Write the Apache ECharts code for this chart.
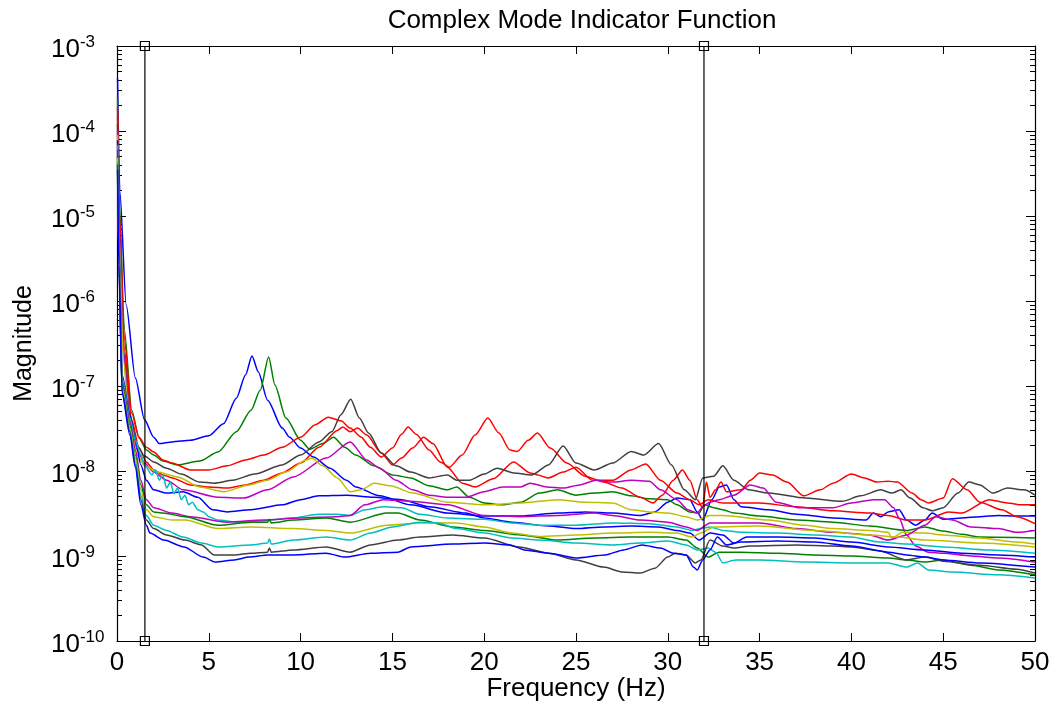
<!DOCTYPE html>
<html><head><meta charset="utf-8">
<script src="https://cdn.jsdelivr.net/npm/echarts@6/dist/echarts.min.js"></script>
<style>html,body{margin:0;padding:0;background:#fff}#c{width:1059px;height:708px}</style>
</head><body><div id="c"></div>
<script>
const FONT = '"Liberation Sans", Arial, Helvetica, sans-serif';
const titleText = 'Complex Mode Indicator Function';
const xName = 'Frequency (Hz)';
const yName = 'Magnitude';
const xTicks = [0, 5, 10, 15, 20, 25, 30, 35, 40, 45, 50];
const yTickExponents = [-10, -9, -8, -7, -6, -5, -4, -3];
const markerFreqs = [1.52, 31.97];

// [frequency (Hz), magnitude]
const s1 = [[0.03,4.2e-4],[0.15,2.0e-5],[0.5,9.0e-7],[1.0,1.24e-7],[1.5,4.0e-8],[2.0,2.5e-8],[2.3,2.1e-8],[3.0,2.2e-8],[4.0,2.3e-8],[5.0,2.6e-8],[5.8,3.6e-8],[6.5,7.2e-8],[7.0,1.35e-7],[7.35,2.25e-7],[7.7,1.46e-7],[8.2,6.8e-8],[9.0,3.2e-8],[9.4,2.5e-8],[10.0,1.86e-8],[10.7,1.46e-8],[11.6,1.08e-8],[12.5,7.8e-9],[13.0,6.5e-9],[14.3,5.1e-9],[16.0,4.0e-9],[18.0,3.2e-9],[20.0,2.95e-9],[22.0,2.95e-9],[24.0,3.2e-9],[25.5,3.3e-9],[27.0,3.2e-9],[28.5,3.0e-9],[29.3,3.3e-9],[30.0,4.3e-9],[30.5,4.8e-9],[31.2,4.6e-9],[31.6,3.3e-9],[31.9,2.65e-9],[32.4,4.6e-9],[32.8,6.5e-9],[33.2,6.85e-9],[33.6,4.6e-9],[34.0,3.8e-9],[35.5,3.5e-9],[37.0,3.1e-9],[39.0,2.8e-9],[40.8,2.65e-9],[41.2,3.2e-9],[41.6,2.9e-9],[42.0,3.3e-9],[42.6,3.5e-9],[43.0,2.65e-9],[43.5,2.3e-9],[44.0,2.65e-9],[44.4,3.2e-9],[45.0,2.7e-9],[46.0,2.8e-9],[47.0,2.9e-9],[48.0,3.0e-9],[49.0,2.95e-9],[50.0,2.95e-9]];
const s2 = [[0.03,2.5e-4],[0.12,1.5e-5],[0.4,4.6e-7],[0.8,5.2e-8],[1.2,2.45e-8],[1.6,1.77e-8],[2.0,1.54e-8],[2.5,1.31e-8],[3.3,1.18e-8],[4.5,1.31e-8],[5.5,1.67e-8],[6.5,2.9e-8],[7.3,5.2e-8],[7.8,8.9e-8],[8.26,2.2e-7],[8.6,1.03e-7],[9.2,4.2e-8],[10.0,2.3e-8],[10.5,1.8e-8],[11.2,2.1e-8],[11.8,2.5e-8],[12.4,1.9e-8],[13.0,1.54e-8],[14.0,1.15e-8],[15.0,9.0e-9],[16.0,8.3e-9],[17.0,6.7e-9],[18.0,6.0e-9],[18.5,6.5e-9],[19.2,4.9e-9],[20.0,4.2e-9],[21.0,4.0e-9],[22.0,4.3e-9],[23.0,5.5e-9],[24.0,6.0e-9],[25.0,5.2e-9],[26.0,5.5e-9],[27.0,5.7e-9],[28.0,5.1e-9],[29.0,4.7e-9],[30.0,4.6e-9],[30.5,4.0e-9],[31.2,3.3e-9],[31.7,3.2e-9],[32.0,4.0e-9],[32.5,3.7e-9],[33.0,3.5e-9],[33.6,3.2e-9],[35.0,2.95e-9],[37.0,2.65e-9],[39.0,2.5e-9],[41.0,2.25e-9],[43.0,2.0e-9],[44.0,2.2e-9],[45.0,1.97e-9],[46.0,1.8e-9],[47.0,1.67e-9],[50.0,1.63e-9]];
const s3 = [[0.03,1.9e-4],[0.12,1.2e-5],[0.4,3.5e-7],[0.8,4.8e-8],[1.2,2.5e-8],[1.6,1.9e-8],[2.0,1.67e-8],[2.5,1.35e-8],[3.0,1.24e-8],[4.0,1.03e-8],[5.0,1.03e-8],[6.0,1.15e-8],[7.0,1.35e-8],[8.0,1.54e-8],[9.0,1.9e-8],[10.0,2.5e-8],[10.8,3.5e-8],[11.5,4.3e-8],[12.2,3.9e-8],[12.7,3.2e-8],[13.3,2.5e-8],[13.8,1.9e-8],[14.4,1.46e-8],[15.0,1.86e-8],[15.5,2.7e-8],[15.85,3.3e-8],[16.3,2.7e-8],[17.0,1.77e-8],[17.6,1.28e-8],[18.1,1.11e-8],[18.8,1.54e-8],[19.5,2.65e-8],[20.2,4.2e-8],[20.8,2.8e-8],[21.4,1.77e-8],[21.8,1.7e-8],[22.4,2.3e-8],[22.9,2.8e-8],[23.6,1.86e-8],[24.5,1.24e-8],[25.5,8.7e-9],[26.5,7.4e-9],[27.5,6.3e-9],[28.5,4.9e-9],[29.2,4.2e-9],[29.7,5.2e-9],[30.3,7.8e-9],[30.8,1.03e-8],[31.2,7.8e-9],[31.6,4.6e-9],[31.9,3.7e-9],[32.1,7.4e-9],[32.3,4.9e-9],[32.6,6.0e-9],[32.9,7.4e-9],[33.2,5.7e-9],[34.0,6.0e-9],[34.5,7.8e-9],[35.0,9.5e-9],[35.7,9.0e-9],[36.5,7.4e-9],[37.4,5.1e-9],[38.3,6.0e-9],[39.0,7.2e-9],[40.0,9.2e-9],[40.7,8.3e-9],[41.4,7.4e-9],[42.0,7.6e-9],[42.5,7.4e-9],[43.3,5.5e-9],[43.8,4.6e-9],[44.2,4.2e-9],[45.0,4.8e-9],[45.5,8.1e-9],[46.3,6.0e-9],[47.0,4.3e-9],[48.2,3.5e-9],[49.0,2.9e-9],[50.0,2.4e-9]];
const s4 = [[0.03,1.5e-4],[0.12,9.0e-6],[0.4,2.65e-7],[0.8,4.0e-8],[1.2,1.86e-8],[1.6,1.28e-8],[2.0,1.03e-8],[2.5,9.0e-9],[3.0,8.3e-9],[4.0,6.85e-9],[5.0,6.5e-9],[6.0,6.3e-9],[7.0,6.85e-9],[8.0,7.8e-9],[9.0,9.5e-9],[10.0,1.24e-8],[11.0,1.9e-8],[12.0,3.0e-8],[12.3,3.3e-8],[12.7,2.9e-8],[13.1,3.2e-8],[13.6,2.65e-8],[14.4,1.63e-8],[15.0,1.18e-8],[15.5,1.42e-8],[16.1,1.86e-8],[16.7,2.5e-8],[17.2,2.1e-8],[18.0,1.11e-8],[18.8,7.2e-9],[19.5,6.5e-9],[20.5,8.1e-9],[21.6,1.28e-8],[22.5,9.5e-9],[23.5,8.3e-9],[24.3,9.7e-9],[25.0,1.11e-8],[25.9,7.8e-9],[27.0,7.8e-9],[28.0,1.03e-8],[28.8,1.21e-8],[29.6,7.8e-9],[30.5,5.5e-9],[31.2,4.6e-9],[31.7,4.0e-9],[32.2,4.6e-9],[33.0,4.2e-9],[35.0,4.2e-9],[37.0,3.8e-9],[39.0,3.4e-9],[41.0,3.2e-9],[42.0,3.0e-9],[43.0,2.65e-9],[44.0,2.65e-9],[45.3,3.3e-9],[46.0,3.2e-9],[47.5,4.6e-9],[48.5,4.2e-9],[49.3,4.0e-9],[50.0,4.0e-9]];
const s5 = [[0.03,1.2e-4],[0.1,9.0e-6],[0.35,2.65e-7],[0.7,4.6e-8],[1.1,2.0e-8],[1.5,1.5e-8],[2.0,1.28e-8],[2.7,1.08e-8],[3.5,9.2e-9],[4.5,7.4e-9],[5.3,7.2e-9],[6.3,7.8e-9],[7.5,9.2e-9],[9.0,1.18e-8],[10.0,1.54e-8],[11.0,2.2e-8],[11.7,2.9e-8],[12.2,4.6e-8],[12.73,7.0e-8],[13.2,4.2e-8],[13.7,2.8e-8],[14.4,1.63e-8],[15.2,1.15e-8],[16.0,9.7e-9],[17.0,8.3e-9],[18.0,9.0e-9],[18.5,7.8e-9],[19.2,7.8e-9],[20.0,9.2e-9],[20.7,1.08e-8],[21.6,9.5e-9],[22.6,9.0e-9],[23.5,1.18e-8],[24.3,1.97e-8],[25.0,1.24e-8],[26.0,1.03e-8],[27.0,1.24e-8],[28.0,1.7e-8],[28.7,1.54e-8],[29.5,2.1e-8],[30.2,1.18e-8],[30.9,6.0e-9],[31.5,4.6e-9],[31.9,8.3e-9],[32.5,8.7e-9],[33.0,1.15e-8],[33.6,7.8e-9],[34.4,6.0e-9],[35.5,5.5e-9],[37.5,4.8e-9],[39.5,4.4e-9],[40.5,5.1e-9],[41.6,6.0e-9],[42.2,5.5e-9],[42.7,6.0e-9],[43.2,4.8e-9],[43.9,3.7e-9],[44.4,3.4e-9],[45.0,3.7e-9],[45.8,5.5e-9],[46.4,7.4e-9],[47.0,6.85e-9],[47.7,5.5e-9],[48.5,6.3e-9],[49.4,6.0e-9],[50.0,5.2e-9]];
const s6 = [[0.03,1.03e-4],[0.1,7.8e-6],[0.35,2.3e-7],[0.7,4.0e-8],[1.1,1.77e-8],[1.5,1.24e-8],[2.0,9.7e-9],[2.7,7.8e-9],[3.6,6.0e-9],[5.5,4.9e-9],[6.9,4.8e-9],[8.2,6.0e-9],[9.6,8.5e-9],[11.4,1.42e-8],[12.7,2.2e-8],[13.6,1.35e-8],[14.3,1.08e-8],[15.2,7.8e-9],[16.1,6.0e-9],[17.0,5.2e-9],[18.0,4.9e-9],[19.0,4.9e-9],[20.0,5.7e-9],[21.0,6.5e-9],[22.0,6.5e-9],[22.5,7.2e-9],[23.4,6.5e-9],[24.3,6.3e-9],[25.2,6.85e-9],[26.1,7.8e-9],[27.0,7.4e-9],[28.0,7.8e-9],[29.0,7.6e-9],[29.6,6.0e-9],[30.5,4.6e-9],[31.1,3.5e-9],[31.6,3.2e-9],[31.9,3.8e-9],[32.3,4.3e-9],[32.8,4.6e-9],[33.6,5.2e-9],[34.5,6.85e-9],[35.2,6.3e-9],[35.9,4.3e-9],[37.2,3.7e-9],[39.0,3.7e-9],[40.0,4.2e-9],[41.2,4.6e-9],[41.8,4.6e-9],[42.3,3.7e-9],[42.6,2.8e-9],[43.0,1.77e-9],[43.5,1.31e-9],[44.2,1.11e-9],[45.0,1.08e-9],[46.5,1.0e-9],[48.0,9.5e-10],[50.0,8.5e-10]];
const s7 = [[0.03,9.0e-5],[0.1,6.8e-6],[0.35,2.0e-7],[0.7,3.5e-8],[1.1,1.54e-8],[1.5,1.15e-8],[2.2,9.7e-9],[3.3,8.5e-9],[4.5,6.5e-9],[5.8,5.7e-9],[7.2,6.85e-9],[8.2,7.8e-9],[9.2,9.7e-9],[10.3,1.35e-8],[10.6,1.42e-8],[11.2,1.15e-8],[12.0,8.3e-9],[12.7,5.7e-9],[13.3,6.0e-9],[14.0,7.2e-9],[14.9,6.7e-9],[16.1,5.5e-9],[18.0,4.3e-9],[20.0,4.0e-9],[22.0,4.2e-9],[24.0,4.6e-9],[25.5,4.3e-9],[27.0,4.2e-9],[28.0,3.5e-9],[29.0,3.3e-9],[30.0,3.2e-9],[31.0,2.9e-9],[31.6,2.65e-9],[32.3,3.0e-9],[33.0,3.0e-9],[35.5,2.65e-9],[37.5,2.3e-9],[39.0,2.1e-9],[41.0,2.0e-9],[42.0,1.9e-9],[42.2,1.63e-9],[42.8,1.9e-9],[44.0,1.86e-9],[45.0,1.77e-9],[47.0,1.63e-9],[49.0,1.46e-9],[50.0,1.38e-9]];
const s8 = [[0.03,7.8e-5],[0.1,6.0e-6],[0.28,1.35e-7],[0.7,4.6e-8],[1.0,2.3e-8],[1.3,1.18e-8],[1.6,7.8e-9],[2.0,6.0e-9],[2.7,5.5e-9],[3.6,5.7e-9],[4.4,4.9e-9],[5.2,3.5e-9],[6.0,3.3e-9],[7.3,3.5e-9],[9.0,4.0e-9],[10.0,4.6e-9],[11.0,5.1e-9],[12.5,5.2e-9],[14.0,4.9e-9],[15.5,4.6e-9],[17.0,3.8e-9],[19.0,3.2e-9],[20.0,2.8e-9],[21.5,2.5e-9],[23.5,2.25e-9],[25.0,2.1e-9],[26.5,2.2e-9],[28.0,2.25e-9],[29.5,2.2e-9],[30.5,2.0e-9],[31.2,1.86e-9],[31.7,1.54e-9],[32.3,1.86e-9],[33.0,1.77e-9],[33.6,1.42e-9],[34.3,1.67e-9],[36.0,1.67e-9],[38.0,1.63e-9],[40.0,1.46e-9],[42.0,1.28e-9],[44.0,1.18e-9],[46.0,1.08e-9],[48.0,1.03e-9],[50.0,9.7e-10]];
const s9 = [[0.03,6.8e-5],[0.1,5.2e-6],[0.28,1.24e-7],[0.7,4.2e-8],[1.0,2.3e-8],[1.3,1.54e-8],[1.5,1.18e-8],[1.9,9.0e-9],[2.1,1.03e-8],[2.3,7.8e-9],[2.5,9.0e-9],[2.7,6.3e-9],[2.9,7.4e-9],[3.1,5.4e-9],[3.3,6.3e-9],[3.5,4.6e-9],[3.7,5.2e-9],[3.9,4.0e-9],[4.1,4.3e-9],[4.4,3.5e-9],[4.7,3.3e-9],[5.0,2.9e-9],[5.5,2.65e-9],[6.5,2.5e-9],[8.0,2.6e-9],[9.5,2.8e-9],[11.0,3.1e-9],[12.0,3.1e-9],[12.7,3.0e-9],[13.5,3.5e-9],[14.5,3.8e-9],[15.5,3.7e-9],[16.5,3.1e-9],[18.0,2.8e-9],[20.0,2.7e-9],[21.5,2.45e-9],[23.0,2.3e-9],[25.0,2.3e-9],[27.0,2.45e-9],[29.0,2.4e-9],[30.5,2.2e-9],[31.3,2.0e-9],[31.8,2.1e-9],[32.3,2.2e-9],[33.0,2.0e-9],[34.0,1.9e-9],[36.0,1.86e-9],[38.0,1.77e-9],[40.0,1.67e-9],[41.5,1.46e-9],[43.0,1.38e-9],[45.0,1.28e-9],[47.5,1.18e-9],[50.0,1.08e-9]];
const s10 = [[0.03,6.0e-5],[0.1,4.6e-6],[0.28,1.11e-7],[0.7,3.8e-8],[1.0,1.77e-8],[1.3,7.8e-9],[1.6,4.6e-9],[2.0,3.7e-9],[3.0,3.2e-9],[4.0,2.9e-9],[6.0,2.5e-9],[8.0,2.65e-9],[10.0,2.8e-9],[12.0,2.9e-9],[12.7,3.0e-9],[13.5,4.0e-9],[14.5,4.6e-9],[16.0,4.4e-9],[18.0,4.0e-9],[20.0,3.0e-9],[22.0,2.9e-9],[24.0,3.0e-9],[26.0,3.2e-9],[27.0,3.0e-9],[28.5,2.65e-9],[30.0,2.5e-9],[31.0,2.2e-9],[31.6,2.0e-9],[32.3,2.45e-9],[35.0,2.45e-9],[37.0,2.1e-9],[39.0,1.9e-9],[41.0,1.77e-9],[42.0,1.54e-9],[43.0,1.77e-9],[44.0,2.3e-9],[44.6,2.9e-9],[45.5,2.65e-9],[46.5,2.2e-9],[48.0,2.1e-9],[49.0,1.9e-9],[50.0,2.0e-9]];
const s11 = [[0.03,5.2e-5],[0.1,4.0e-6],[0.28,1.03e-7],[0.7,3.5e-8],[1.0,1.54e-8],[1.3,6.85e-9],[1.6,4.0e-9],[2.0,3.3e-9],[2.5,3.2e-9],[3.7,2.9e-9],[5.5,2.3e-9],[7.3,2.5e-9],[8.2,2.5e-9],[8.3,2.7e-9],[8.4,2.45e-9],[9.6,2.65e-9],[11.4,2.8e-9],[12.7,2.5e-9],[14.7,3.2e-9],[15.3,3.2e-9],[16.5,2.65e-9],[18.3,2.2e-9],[20.0,2.0e-9],[22.0,1.77e-9],[24.0,1.54e-9],[26.0,1.63e-9],[28.0,1.67e-9],[30.0,1.67e-9],[31.0,1.54e-9],[31.6,1.24e-9],[32.2,9.7e-10],[32.8,1.11e-9],[34.0,1.11e-9],[36.0,1.08e-9],[38.0,1.03e-9],[40.0,1.0e-9],[42.0,9.5e-10],[43.0,9.0e-10],[44.0,8.5e-10],[45.0,9.0e-10],[46.5,7.8e-10],[48.0,6.85e-10],[50.0,6.0e-10]];
const s12 = [[0.03,4.8e-5],[0.1,3.5e-6],[0.28,9.5e-8],[0.7,3.2e-8],[1.0,1.42e-8],[1.3,6.0e-9],[1.6,3.5e-9],[2.0,2.9e-9],[3.0,2.65e-9],[3.7,2.65e-9],[5.5,2.1e-9],[7.3,2.2e-9],[9.6,2.1e-9],[11.4,2.0e-9],[12.7,1.86e-9],[14.7,2.3e-9],[16.5,2.45e-9],[18.5,2.45e-9],[20.0,2.2e-9],[21.5,1.86e-9],[23.0,1.7e-9],[25.0,1.77e-9],[27.0,1.86e-9],[29.0,1.9e-9],[30.5,1.86e-9],[31.3,1.67e-9],[31.8,1.86e-9],[32.5,2.2e-9],[35.0,2.25e-9],[38.0,2.0e-9],[41.0,1.77e-9],[42.5,1.67e-9],[44.0,1.54e-9],[47.0,1.42e-9],[50.0,1.28e-9]];
const s13 = [[0.03,4.3e-5],[0.1,3.2e-6],[0.28,8.9e-8],[0.7,3.0e-8],[1.0,1.28e-8],[1.3,5.2e-9],[1.6,3.0e-9],[2.0,2.3e-9],[2.7,2.0e-9],[3.6,1.67e-9],[4.6,1.42e-9],[5.5,1.28e-9],[7.3,1.35e-9],[8.2,1.42e-9],[8.3,1.58e-9],[8.4,1.38e-9],[9.6,1.54e-9],[11.4,1.67e-9],[12.7,1.54e-9],[13.8,1.86e-9],[15.0,2.2e-9],[16.5,2.5e-9],[17.5,2.45e-9],[18.5,2.1e-9],[20.0,1.86e-9],[21.5,1.63e-9],[23.0,1.54e-9],[25.0,1.42e-9],[27.0,1.35e-9],[28.5,1.42e-9],[30.0,1.5e-9],[31.0,1.35e-9],[31.6,1.18e-9],[32.2,1.24e-9],[32.6,1.11e-9],[33.0,8.3e-10],[33.7,9.0e-10],[35.0,9.0e-10],[37.5,8.5e-10],[40.0,8.3e-10],[42.0,8.3e-10],[43.0,7.4e-10],[43.6,8.3e-10],[44.2,6.85e-10],[45.5,6.5e-10],[48.0,6.0e-10],[50.0,5.5e-10]];
const s14 = [[0.03,4.0e-5],[0.1,2.9e-6],[0.28,8.5e-8],[0.7,2.9e-8],[1.0,1.18e-8],[1.3,4.6e-9],[1.6,2.65e-9],[2.0,2.1e-9],[2.7,1.77e-9],[3.7,1.54e-9],[4.6,1.35e-9],[5.3,1.03e-9],[6.4,1.03e-9],[7.3,1.08e-9],[8.2,1.11e-9],[8.3,1.24e-9],[8.4,1.11e-9],[9.6,1.18e-9],[11.4,1.28e-9],[12.7,1.11e-9],[13.8,1.35e-9],[15.3,1.54e-9],[16.5,1.67e-9],[18.3,1.77e-9],[20.0,1.63e-9],[21.9,1.28e-9],[23.5,1.08e-9],[25.0,9.0e-10],[26.5,7.4e-10],[27.5,6.5e-10],[28.5,6.3e-10],[29.3,7.2e-10],[30.0,9.7e-10],[30.4,1.08e-9],[31.0,1.03e-9],[31.5,8.3e-10],[31.8,9.0e-10],[32.3,1.54e-9],[33.0,1.31e-9],[33.6,1.24e-9],[34.5,1.31e-9],[37.0,1.35e-9],[39.0,1.31e-9],[40.0,1.28e-9],[41.5,1.15e-9],[43.0,9.0e-10],[44.0,9.7e-10],[45.0,8.7e-10],[47.0,7.8e-10],[49.0,7.0e-10],[50.0,6.3e-10]];
const s15 = [[0.03,3.5e-5],[0.1,2.65e-6],[0.28,8.1e-8],[0.7,2.65e-8],[1.0,1.11e-8],[1.3,4.0e-9],[1.6,2.3e-9],[1.8,1.86e-9],[2.55,1.54e-9],[3.65,1.28e-9],[4.7,9.7e-10],[5.35,8.5e-10],[6.4,9.0e-10],[7.2,9.7e-10],[8.2,1.03e-9],[9.6,1.03e-9],[11.4,1.08e-9],[12.4,9.7e-10],[13.8,1.08e-9],[15.3,1.11e-9],[16.0,1.28e-9],[18.3,1.38e-9],[20.0,1.42e-9],[21.4,1.35e-9],[22.2,1.18e-9],[23.5,1.08e-9],[25.0,9.5e-10],[26.6,1.03e-9],[27.6,1.18e-9],[28.6,1.35e-9],[29.6,1.24e-9],[30.3,1.08e-9],[31.0,1.03e-9],[31.4,7.4e-10],[31.6,6.85e-10],[31.9,9.0e-10],[32.3,1.18e-9],[32.7,1.67e-9],[33.2,1.35e-9],[34.0,1.46e-9],[36.0,1.5e-9],[38.0,1.46e-9],[40.0,1.31e-9],[42.0,1.11e-9],[43.0,1.03e-9],[44.0,9.7e-10],[45.0,9.0e-10],[47.0,8.3e-10],[50.0,7.4e-10]];

const curves = [s1, s2, s3, s4, s5, s6, s7, s8, s9, s10, s11, s12, s13, s14, s15];
const curveColors = ['#0000ff','#008000','#ff0000','#ff0000','#404040','#bf00bf','#bfbf00','#0000ff','#00bfbf','#bf00bf','#008000','#bfbf00','#00bfbf','#404040','#0000ff'];

const yMin = 1e-10, yMax = 1e-3;
// minor tick positions (log10 of 2..9 x each decade), drawn on a hidden linear axis spanning the same exponents
const minorTickExp = [];
for (let e = -10; e < -3; e++) for (let m = 2; m <= 9; m++) minorTickExp.push(e + Math.log10(m));

const chart = echarts.init(document.getElementById('c'), null, {renderer: 'canvas'});
const black = '#000';
const labelRich = {
  b: {fontSize: 26, fontFamily: FONT, color: black, lineHeight: 32},
  s: {fontSize: 17, fontFamily: FONT, color: black, verticalAlign: 'top', lineHeight: 20}
};
function yLabel(v) {
  const e = Math.round(Math.log10(v));
  if (yTickExponents.indexOf(e) < 0) return '';
  return '{b|10}{s|' + e + '}';
}
const baseY = {
  type: 'log', logBase: 10, min: yMin, max: yMax, interval: 1,
  splitLine: {show: false}
};
const minorY = {
  type: 'value', min: -10, max: -3, interval: 1,
  axisLine: {show: false}, axisLabel: {show: false}, splitLine: {show: false},
  axisTick: {show: true, inside: true, length: 5, customValues: minorTickExp, lineStyle: {color: black}}
};
const series = curves.map((d, i) => ({
  type: 'line', data: d, xAxisIndex: 0, yAxisIndex: 0,
  showSymbol: false, smooth: 0.25, smoothMonotone: 'x',
  lineStyle: {color: curveColors[i], width: 1.5},
  itemStyle: {color: curveColors[i]},
  silent: true, z: 2
}));
markerFreqs.forEach(f => {
  series.push({
    type: 'line', data: [[f, yMin], [f, yMax]], xAxisIndex: 0, yAxisIndex: 0,
    symbol: 'rect', symbolSize: 9, showSymbol: true, clip: false,
    lineStyle: {color: black, width: 1.2},
    itemStyle: {color: 'rgba(0,0,0,0)', borderColor: black, borderWidth: 1.2},
    silent: true, z: 5
  });
});

chart.setOption({
  animation: false,
  backgroundColor: '#fff',
  title: {
    text: titleText, left: 577, top: 3, textAlign: 'center',
    textStyle: {fontFamily: FONT, fontSize: 26, fontWeight: 'normal', color: black}
  },
  grid: {left: 117, right: 24, top: 46, bottom: 67, containLabel: false, outerBoundsMode: 'none'},
  xAxis: [
    {type: 'value', position: 'bottom', min: 0, max: 50, interval: 5,
     name: xName, nameLocation: 'middle', nameGap: 35, nameMoveOverlap: false,
     nameTextStyle: {fontFamily: FONT, fontSize: 26, color: black},
     axisLine: {show: true, lineStyle: {color: black, width: 1.2}},
     axisTick: {show: true, inside: true, length: 8, lineStyle: {color: black}},
     axisLabel: {show: true, margin: 9, fontFamily: FONT, fontSize: 26, color: black,
       formatter: v => (xTicks.indexOf(v) >= 0 ? String(v) : '')},
     splitLine: {show: false}},
    {type: 'value', position: 'top', min: 0, max: 50, interval: 5,
     axisLine: {show: true, lineStyle: {color: black, width: 1.2}},
     axisTick: {show: true, inside: true, length: 8, lineStyle: {color: black}},
     axisLabel: {show: false}, splitLine: {show: false}}
  ],
  yAxis: [
    Object.assign({}, baseY, {position: 'left',
      name: yName, nameLocation: 'middle', nameGap: 80, nameRotate: 90, nameMoveOverlap: false,
      nameTextStyle: {fontFamily: FONT, fontSize: 25, color: black},
      axisLine: {show: true, lineStyle: {color: black, width: 1.2}},
      axisTick: {show: true, inside: true, length: 9, lineStyle: {color: black}},
      axisLabel: {show: true, margin: 66, align: 'left', padding: [8, 0, 0, 0], formatter: yLabel, rich: labelRich}}),
    Object.assign({}, minorY, {position: 'left'}),
    Object.assign({}, baseY, {position: 'right',
      axisLine: {show: true, lineStyle: {color: black, width: 1.2}},
      axisTick: {show: true, inside: true, length: 9, lineStyle: {color: black}},
      axisLabel: {show: false}}),
    Object.assign({}, minorY, {position: 'right'})
  ],
  series: series
});
</script>
</body></html>
